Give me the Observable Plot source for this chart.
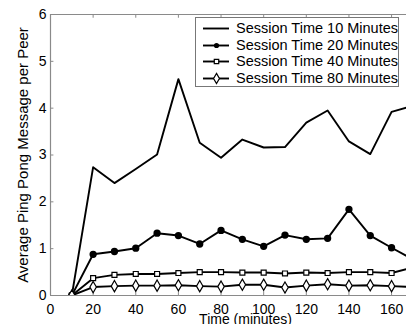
<!DOCTYPE html>
<html>
<head>
<meta charset="utf-8">
<script src="https://cdn.jsdelivr.net/npm/d3@7"></script>
<script src="https://cdn.jsdelivr.net/npm/@observablehq/plot@0.6"></script>
<style>
  body { margin: 0; background: #fff; }
  #wrap { position: relative; width: 406px; height: 324px; overflow: hidden; font-family: "Liberation Sans", Arial, sans-serif; }
  #legend { position: absolute; left: 195px; top: 17px; width: 204px; height: 70px; border: 1px solid #777; background: #fff; box-sizing: border-box; padding-top: 2px; }
  .row { display: flex; align-items: center; height: 16.6px; font-size: 14.5px; color: #000; }
  .row svg { margin-left: 7px; margin-right: 7px; }
</style>
</head>
<body>
<div id="wrap"></div>
<script>
const times = [10, 20, 30, 40, 50, 60, 70, 80, 90, 100, 110, 120, 130, 140, 150, 160, 170];
const s10 = [0, 2.74, 2.40, 2.70, 3.01, 4.62, 3.26, 2.94, 3.33, 3.16, 3.17, 3.69, 3.95, 3.29, 3.02, 3.92, 4.05];
const s20 = [0, 0.88, 0.94, 1.01, 1.33, 1.28, 1.10, 1.39, 1.20, 1.05, 1.29, 1.20, 1.22, 1.84, 1.28, 1.02, 0.77];
const s40 = [0, 0.37, 0.44, 0.46, 0.46, 0.48, 0.50, 0.50, 0.49, 0.49, 0.47, 0.49, 0.48, 0.50, 0.50, 0.48, 0.60];
const s80 = [0, 0.18, 0.20, 0.21, 0.21, 0.22, 0.20, 0.19, 0.23, 0.23, 0.17, 0.21, 0.24, 0.21, 0.22, 0.20, 0.18];
const seriesNames = ["Session Time 10 Minutes", "Session Time 20 Minutes", "Session Time 40 Minutes", "Session Time 80 Minutes"];
const xTicks = [0, 20, 40, 60, 80, 100, 120, 140, 160];
const yTicks = [0, 1, 2, 3, 4, 5, 6];
const xTitle = "Time (minutes)";
const yTitle = "Average Ping Pong Message per Peer";

const toRows = (vals) => times.map((t, i) => ({x: t, y: vals[i]}));
const d10 = toRows(s10), d20 = toRows(s20), d40 = toRows(s40), d80 = toRows(s80);

const axisGray = "#8a8a8a";
const lineW = 1.9;

const chart = Plot.plot({
  width: 406,
  height: 324,
  marginLeft: 50,
  marginRight: 0,
  marginTop: 14,
  marginBottom: 29,
  style: {fontFamily: "'Liberation Sans', Arial, sans-serif", background: "#fff"},
  x: {domain: [0, 167], axis: null},
  y: {domain: [0, 6], axis: null},
  marks: [
    Plot.ruleY([0, 6], {stroke: axisGray, strokeWidth: 1.2}),
    Plot.ruleX([0], {stroke: axisGray, strokeWidth: 1.2}),
    Plot.ruleY(yTicks, {x1: 0, x2: 1.6, stroke: axisGray}),
    Plot.ruleX(xTicks, {y1: 6, y2: 5.92, stroke: axisGray}),
    Plot.ruleX(xTicks, {y1: 0, y2: 0.08, stroke: axisGray}),
    Plot.axisX({ticks: xTicks, tickSize: 0, tickPadding: 9, fontSize: 14, label: null, fill: "#000", tickFormat: d => String(d)}),
    Plot.axisY({ticks: yTicks, tickSize: 0, tickPadding: 4, fontSize: 14, label: null, fill: "#000", tickFormat: d => String(d)}),
    Plot.text([xTitle], {frameAnchor: "bottom", dx: 17, dy: 24, lineAnchor: "middle", fontSize: 14, fill: "#000"}),
    Plot.text([yTitle], {frameAnchor: "left", textAnchor: "middle", rotate: -90, dx: -27, fontSize: 15, fill: "#000"}),
    Plot.line(d10, {x: "x", y: "y", stroke: "#000", strokeWidth: lineW, clip: true}),
    Plot.line(d20, {x: "x", y: "y", stroke: "#000", strokeWidth: lineW, clip: true}),
    Plot.line(d40, {x: "x", y: "y", stroke: "#000", strokeWidth: lineW, clip: true}),
    Plot.line(d80, {x: "x", y: "y", stroke: "#000", strokeWidth: lineW, clip: true}),
    Plot.dot(d20, {x: "x", y: "y", r: 2.9, fill: "#000", stroke: "#000", clip: true}),
    Plot.dot(d40, {x: "x", y: "y", symbol: "square", r: 2.8, fill: "#fff", stroke: "#000", strokeWidth: 1.2, clip: true}),
    Plot.dot(d80, {x: "x", y: "y", symbol: "diamond", r: 3.4, fill: "#fff", stroke: "#000", strokeWidth: 1.2, clip: true})
  ]
});
const wrap = document.getElementById("wrap");
wrap.appendChild(chart);

// legend
const legend = document.createElement("div");
legend.id = "legend";
const symbols = [null, "circle", "square", "diamond"];
seriesNames.forEach((name, i) => {
  const row = document.createElement("div");
  row.className = "row";
  const sym = symbols[i];
  const sample = Plot.plot({
    width: 26, height: 12, margin: 0,
    x: {domain: [0, 2], axis: null}, y: {domain: [0, 2], axis: null},
    style: {overflow: "visible", background: "transparent"},
    marks: [
      Plot.ruleY([1], {x1: 0, x2: 2, stroke: "#000", strokeWidth: lineW}),
      sym === "circle" ? Plot.dot([{x: 1, y: 1}], {x: "x", y: "y", r: 2.6, fill: "#000"}) : null,
      sym === "square" ? Plot.dot([{x: 1, y: 1}], {x: "x", y: "y", symbol: "square", r: 2.5, fill: "#fff", stroke: "#000", strokeWidth: 1.2}) : null,
      sym === "diamond" ? Plot.dot([{x: 1, y: 1}], {x: "x", y: "y", symbol: "diamond", r: 3.1, fill: "#fff", stroke: "#000", strokeWidth: 1.2}) : null
    ]
  });
  row.appendChild(sample);
  const label = document.createElement("span");
  label.textContent = name;
  row.appendChild(label);
  legend.appendChild(row);
});
wrap.appendChild(legend);
</script>
</body>
</html>
